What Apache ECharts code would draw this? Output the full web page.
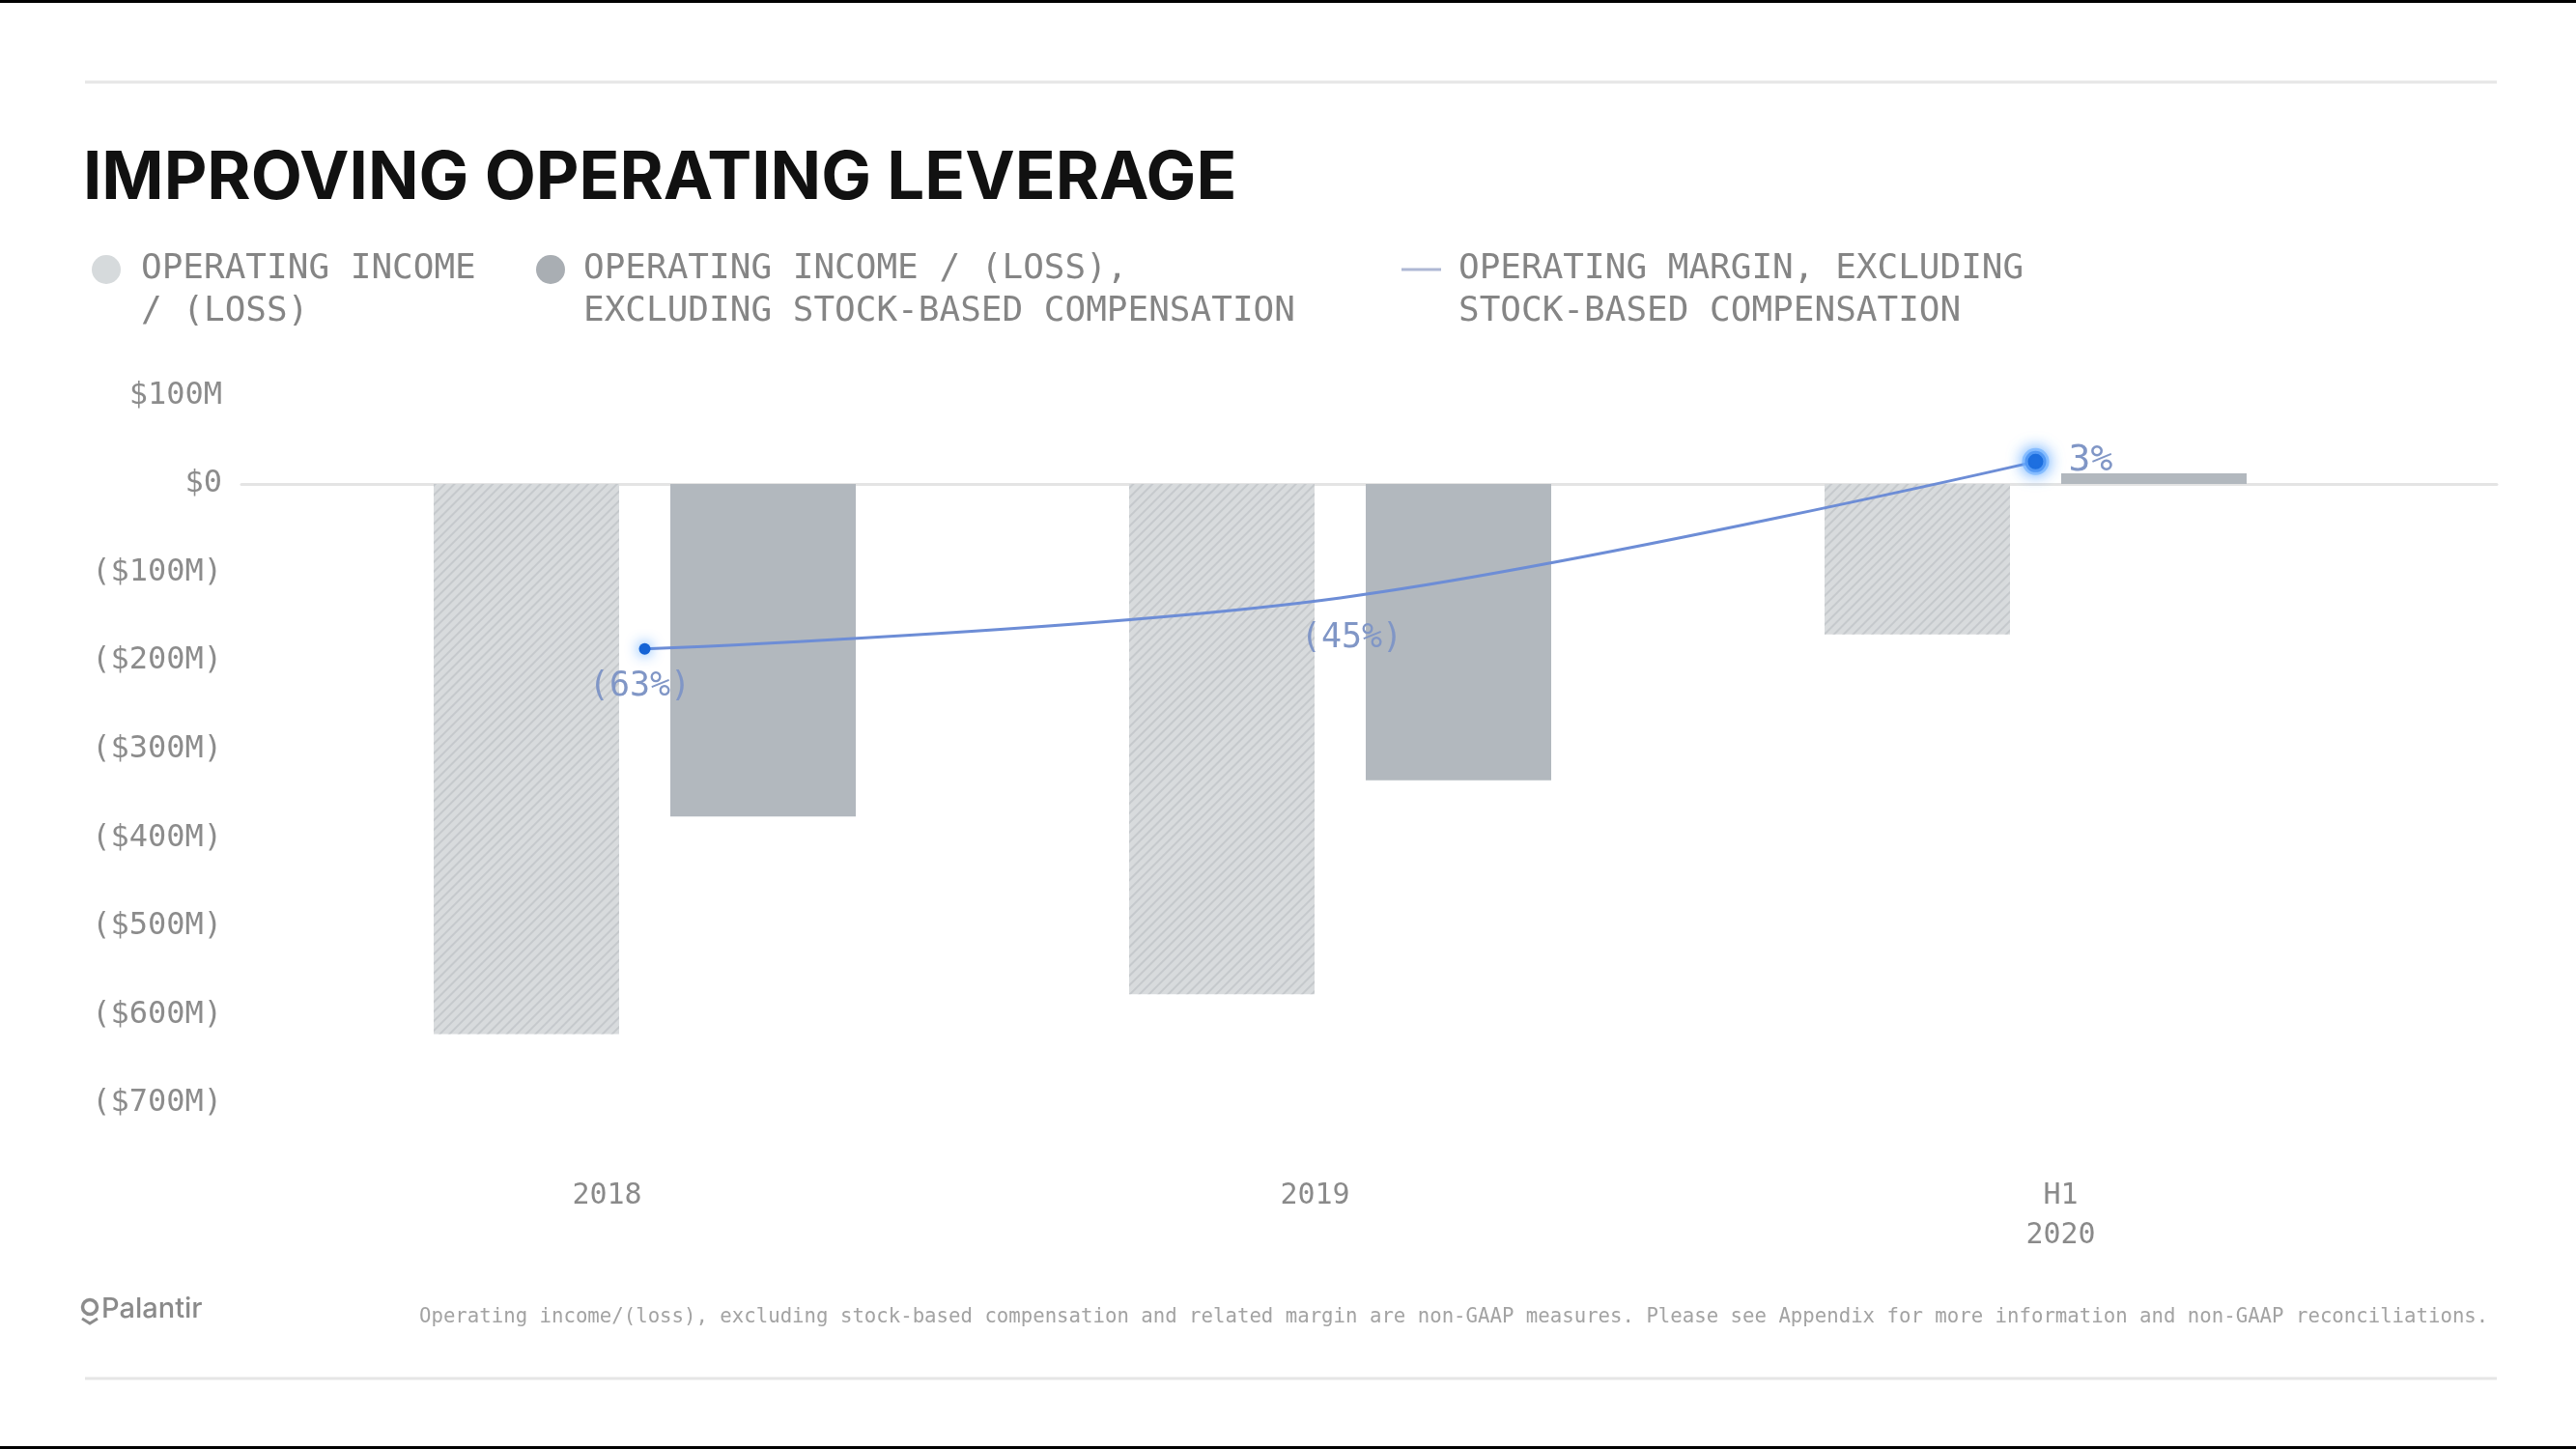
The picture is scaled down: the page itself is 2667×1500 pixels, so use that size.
<!DOCTYPE html>
<html>
<head>
<meta charset="utf-8">
<script src="https://cdn.jsdelivr.net/npm/echarts@6/dist/echarts.min.js"></script>
<style>
  html, body { margin: 0; padding: 0; background: #ffffff; }
  #wrap { position: relative; width: 2667px; height: 1500px; background: #ffffff; overflow: hidden; }
  #chart { position: absolute; left: 0; top: 0; width: 2667px; height: 1500px; }
  .strip { position: absolute; left: 0; width: 2667px; height: 3px; background: #000; }
</style>
</head>
<body>
<div id="wrap">
  <div id="chart"></div>
  <div class="strip" style="top:0"></div>
  <div class="strip" style="top:1497px"></div>
</div>
<script>
// ---- data ----
const categories = ['2018', '2019', 'H1\n2020'];
const opIncome = [-622, -577, -170];          // Operating income / (loss), $M
const adjOpIncome = [-376, -335, 12];          // excl. stock-based compensation, $M
const opMargin = [-63, -45, 3];                // operating margin excl. SBC, %
const marginLabels = ['(63%)', '(45%)', '3%'];
const yTickValues = [-700, -600, -500, -400, -300, -200, -100, 0, 100];
const yTickLabels = ['($700M)', '($600M)', '($500M)', '($400M)', '($300M)', '($200M)', '($100M)', '$0', '$100M'];
const seriesNames = [
  'OPERATING INCOME\n/ (LOSS)',
  'OPERATING INCOME / (LOSS),\nEXCLUDING STOCK-BASED COMPENSATION',
  'OPERATING MARGIN, EXCLUDING\nSTOCK-BASED COMPENSATION'
];
const footnote = 'Operating income/(loss), excluding stock-based compensation and related margin are non-GAAP measures. Please see Appendix for more information and non-GAAP reconciliations.';

// ---- styles ----
const MONO = '"DejaVu Sans Mono", "Liberation Mono", monospace';
const GRID_TOP = 409.4, GRID_H = 732.6;
const labelShift = [{ padding: [0, 78, 0, 0] }, { padding: [0, 52, 0, 0] }, { padding: [0, 0, 0, 52] }];
const rich = {};
labelShift.forEach((s, i) => {
  rich['s' + i] = Object.assign({ fontFamily: MONO, fontSize: 30, color: '#8a8a8a', lineHeight: 41 }, s);
});

const labelCfg = [
  { position: 'bottom', distance: 16, offset: [-5, 0], fontSize: 35 },
  { position: 'bottom', distance: 24, offset: [12, 0], fontSize: 35 },
  { position: 'right', distance: 20, offset: [0, -1], fontSize: 38 }
];
const symCfg = [
  { symbolSize: 12, itemStyle: { color: '#1463d6', shadowBlur: 14, shadowColor: 'rgba(40,140,255,0.9)' } },
  { symbolSize: 0, itemStyle: { color: 'rgba(0,0,0,0)' } },
  { symbolSize: 22, itemStyle: { color: '#1463d6', borderWidth: 6, borderColor: 'rgba(110,175,255,0.65)', shadowBlur: 16, shadowColor: 'rgba(60,150,255,0.9)' } }
];

const legendBase = {
  orient: 'horizontal',
  top: 213,
  padding: 0,
  selectedMode: false,
  itemHeight: 30,
  formatter: name => '\n' + name
};
const legendText = pad => ({ fontFamily: MONO, fontSize: 36, lineHeight: 44, color: '#858585', padding: [0, 0, 0, pad] });

const chart = echarts.init(document.getElementById('chart'), null, { renderer: 'canvas' });
chart.setOption({
  backgroundColor: '#ffffff',
  animation: false,
  title: {
    text: 'IMPROVING OPERATING LEVERAGE',
    left: 86,
    top: 151,
    padding: 0,
    textStyle: { fontFamily: 'Inter, Roboto, "Noto Sans", sans-serif', fontWeight: 'bold', fontSize: 69, color: '#111111' }
  },
  legend: [
    Object.assign({}, legendBase, {
      left: 95, itemWidth: 30,
      data: [{ name: seriesNames[0], icon: 'circle', itemStyle: { color: '#d6dadc', decal: 'none' } }],
      textStyle: legendText(16)
    }),
    Object.assign({}, legendBase, {
      left: 555, itemWidth: 30,
      data: [{ name: seriesNames[1], icon: 'circle', itemStyle: { color: '#a9aeb3' } }],
      textStyle: legendText(14)
    }),
    Object.assign({}, legendBase, {
      left: 1451, itemWidth: 41,
      data: [{ name: seriesNames[2], icon: 'path://M0,0h41v3h-41z', itemStyle: { color: '#aeb8d4' }, lineStyle: { opacity: 0 } }],
      textStyle: legendText(13)
    })
  ],
  grid: [
    { left: 307.5, width: 2160, top: GRID_TOP, height: GRID_H, containLabel: false },
    { left: 250, width: 2335, top: GRID_TOP, height: GRID_H, containLabel: false }
  ],
  xAxis: [
    {
      type: 'category', gridIndex: 0, data: categories,
      axisLine: { show: false, onZero: false }, axisTick: { show: false },
      splitLine: { show: false },
      axisLabel: {
        margin: 76, interval: 0,
        formatter: (v, i) => v.split('\n').map(l => '{s' + i + '|' + l + '}').join('\n'),
        rich: rich
      }
    },
    {
      type: 'value', gridIndex: 1, min: 0, max: 1, show: true,
      axisLine: { show: true, onZero: true, lineStyle: { color: '#e4e4e4', width: 3 } },
      axisTick: { show: false }, axisLabel: { show: false }, splitLine: { show: false }
    }
  ],
  yAxis: [
    { type: 'value', gridIndex: 0, min: -700, max: 100, show: false },
    { type: 'value', gridIndex: 0, min: -223, max: 26.3, show: false },
    {
      type: 'value', gridIndex: 1, min: -700, max: 100, interval: 100,
      axisLine: { show: false }, axisTick: { show: false }, splitLine: { show: false },
      axisLabel: {
        margin: 20, fontFamily: MONO, fontSize: 32, color: '#8c8c8c',
        formatter: v => yTickLabels[yTickValues.indexOf(Math.round(v))] || ''
      }
    }
  ],
  series: [
    {
      name: seriesNames[0], type: 'bar', xAxisIndex: 0, yAxisIndex: 0,
      data: opIncome, barWidth: 192, barGap: '27.6%',
      itemStyle: {
        color: '#d8dbdd',
        decal: { symbol: 'rect', symbolSize: 1, dashArrayX: [1, 0], dashArrayY: [2, 5], rotation: -Math.PI / 4, color: 'rgba(185,189,193,0.6)' }
      }
    },
    {
      name: seriesNames[1], type: 'bar', xAxisIndex: 0, yAxisIndex: 0,
      data: adjOpIncome, barWidth: 192, barGap: '27.6%',
      itemStyle: { color: '#b2b8be' }
    },
    {
      name: seriesNames[2], type: 'line', xAxisIndex: 0, yAxisIndex: 1,
      smooth: 0.35, symbol: 'circle',
      lineStyle: { color: '#6d8dd6', width: 3 },
      itemStyle: { color: '#1463d6' },
      z: 5,
      data: opMargin.map((v, i) => Object.assign({
        value: v,
        label: Object.assign({
          show: true, formatter: marginLabels[i],
          fontFamily: MONO, color: '#8096c6'
        }, labelCfg[i])
      }, symCfg[i]))
    }
  ],
  graphic: [
    { type: 'line', shape: { x1: 88, y1: 85, x2: 2585, y2: 85 }, style: { stroke: '#e6e6e6', lineWidth: 3 } },
    { type: 'line', shape: { x1: 88, y1: 1427, x2: 2585, y2: 1427 }, style: { stroke: '#e6e6e6', lineWidth: 3 } },
    {
      type: 'text', left: 434, top: 1353,
      style: { text: footnote, fontFamily: MONO, fontSize: 20.7, fill: '#a3a3a3' }
    },
    { type: 'circle', shape: { cx: 93, cy: 1353, r: 7.5 }, style: { fill: 'none', stroke: '#8c8c8c', lineWidth: 3.5 } },
    { type: 'polyline', shape: { points: [[85, 1365], [93, 1370], [101, 1365]] }, style: { fill: 'none', stroke: '#8c8c8c', lineWidth: 3 } },
    {
      type: 'text', left: 105, top: 1341,
      style: { text: 'Palantir', fontFamily: 'Inter, "Noto Sans", sans-serif', fontWeight: 500, fontSize: 29, fill: '#8a8a8a' }
    }
  ]
});
</script>
</body>
</html>
